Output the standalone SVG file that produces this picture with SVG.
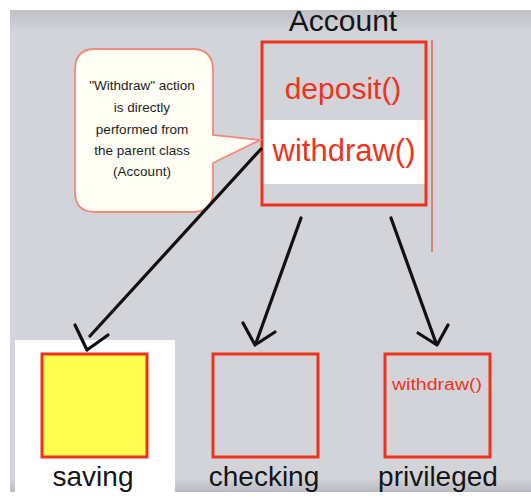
<svg xmlns="http://www.w3.org/2000/svg" width="531" height="502" viewBox="0 0 531 502">
  <style>
    .lbl { font-family: "Liberation Sans", Arial, sans-serif; fill: #151515; text-anchor: middle; }
    .red { font-family: "Liberation Sans", Arial, sans-serif; fill: #f0321c; text-anchor: middle; }
    .note { font-family: "Liberation Sans", Arial, sans-serif; fill: #1e1e1e; font-size: 13.5px; text-anchor: middle; }
    .box { fill: none; stroke: #f0321c; stroke-width: 3; }
    .yellow { fill: #fffe50; }
    .conn { fill: none; stroke: #111; stroke-width: 3.2; stroke-linecap: round; stroke-linejoin: round; }
  </style>
  <defs>
    <linearGradient id="topband" x1="0" y1="0" x2="0" y2="1">
      <stop offset="0" stop-color="#bfc0c6"/>
      <stop offset="1" stop-color="#d3d4da"/>
    </linearGradient>
    <linearGradient id="botband" x1="0" y1="0" x2="0" y2="1">
      <stop offset="0" stop-color="#d3d4da"/>
      <stop offset="1" stop-color="#b9babf"/>
    </linearGradient>
  </defs>
  <rect x="0" y="0" width="531" height="502" fill="#ffffff"/>
  <rect x="10" y="10" width="521" height="482" fill="#d3d4da"/>
  <rect x="10" y="10" width="521" height="22" fill="url(#topband)"/>
  <rect x="10" y="478" width="521" height="14" fill="url(#botband)"/>

  <g id="account">
    <text class="lbl" x="343" y="31" font-size="30">Account</text>
    <rect x="262" y="120" width="164" height="64" fill="#ffffff"/>
    <rect class="box" x="262" y="42" width="164" height="163" stroke-width="4"/>
    <line x1="432" y1="40" x2="432" y2="252" stroke="#f0321c" stroke-width="1.3" opacity="0.8"/>
    <text class="red" x="343" y="99" font-size="30">deposit()</text>
    <text class="red" x="344" y="161" font-size="31">withdraw()</text>
  </g>

  <g id="callout">
    <path d="M95,49 H192 Q213,49 213,70 V135 L260,140 L213,163 V192 Q213,212 192,212 H95 Q75,212 75,192 V70 Q75,49 95,49 Z" fill="#fffdf4" stroke="#f08a7a" stroke-width="1.8"/>
    <text class="note" x="142" y="90">"Withdraw" action</text>
    <text class="note" x="142" y="112">is directly</text>
    <text class="note" x="142" y="134">performed from</text>
    <text class="note" x="142" y="155">the parent class</text>
    <text class="note" x="142" y="176">(Account)</text>
  </g>

  <g id="saving">
    <rect x="15" y="340" width="160" height="155" fill="#ffffff"/>
    <rect class="box yellow" x="42" y="354" width="105" height="103"/>
    <text class="lbl" x="93" y="486" font-size="28">saving</text>
  </g>

  <g id="checking">
    <rect class="box" x="213" y="354" width="105" height="103"/>
    <text class="lbl" x="264" y="486" font-size="28">checking</text>
  </g>

  <g id="privileged">
    <rect class="box" x="385" y="354" width="105" height="103"/>
    <text class="red" x="437" y="390" font-size="16" textLength="90" lengthAdjust="spacingAndGlyphs">withdraw()</text>
    <text class="lbl" x="438" y="486" font-size="28">privileged</text>
  </g>

  <g id="connectors">
    <path class="conn" d="M261,149 L90,336"/>
    <path class="conn" d="M75,325 L87,350 L108,335"/>
    <path class="conn" d="M301,218 L256,343"/>
    <path class="conn" d="M243,323 L255,345 L275,332"/>
    <path class="conn" d="M391,218 L436,343"/>
    <path class="conn" d="M418,333 L437,345 L448,325"/>
  </g>
</svg>
